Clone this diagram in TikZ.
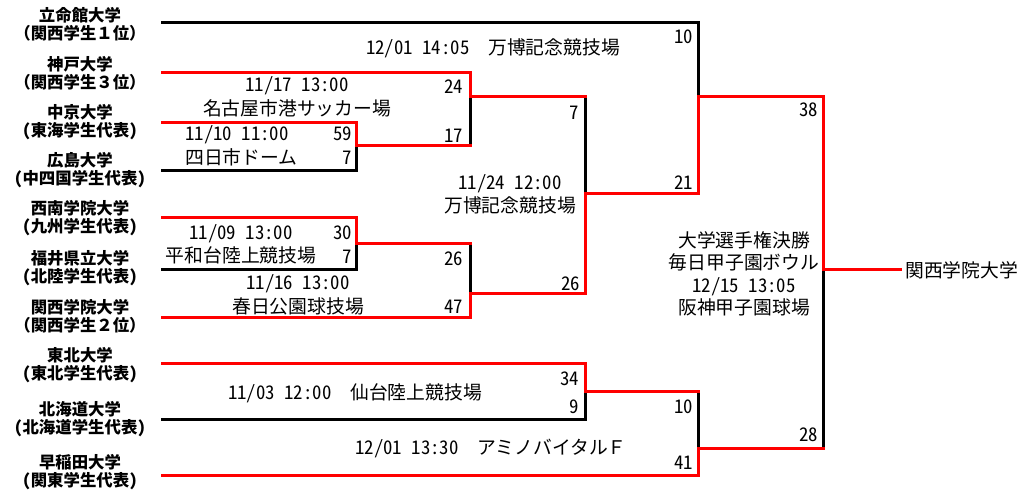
\documentclass[tikz,border=0pt]{standalone}
\usepackage{fontspec}
\setmainfont{Noto Sans CJK JP}[RawFeature=+hwid]
\newfontfamily\fwfont{Noto Sans CJK JP}
\newcommand{\fw}[1]{{\fwfont #1}}
\begin{document}
\begin{tikzpicture}[x=1pt,y=-1pt,
  win/.style={line width=3pt,red,line cap=rect,line join=miter},
  lose/.style={line width=3pt,black,line cap=rect,line join=miter},
  team/.style={font=\fontsize{16.4}{18}\selectfont\bfseries,align=center,inner sep=0pt},
  info/.style={font=\fontsize{18.8}{22.5}\selectfont,inner sep=0pt,anchor=base},
  score/.style={font=\fontsize{18.8}{22.5}\selectfont,inner sep=0pt,anchor=base east}]
\useasboundingbox (0,0) rectangle (1032,500);
\fill[white] (0,0) rectangle (1032,500);
% team labels
\node[team] (n1) at (80,24) {立命館大学\\\fw{（関西学生１位）}};
\node[team] (n2) at (80,73) {神戸大学\\\fw{（関西学生３位）}};
\node[team] (n3) at (80,122) {中京大学\\（東海学生代表）};
\node[team] (n4) at (80,170) {広島大学\\（中四国学生代表）};
\node[team] (n5) at (80,218) {西南学院大学\\（九州学生代表）};
\node[team] (n6) at (80,268) {福井県立大学\\（北陸学生代表）};
\node[team] (n7) at (80,316) {関西学院大学\\\fw{（関西学生２位）}};
\node[team] (n8) at (80,365) {東北大学\\（東北学生代表）};
\node[team] (n9) at (80,419) {北海道大学\\（北海道学生代表）};
\node[team] (n10) at (80,472) {早稲田大学\\（関東学生代表）};
% line starts
\coordinate (s1) at (162,23);
\coordinate (s2) at (162,73);
\coordinate (s3) at (162,122);
\coordinate (s4) at (162,170);
\coordinate (s5) at (162,217);
\coordinate (s6) at (162,269);
\coordinate (s7) at (162,317);
\coordinate (s8) at (162,363);
\coordinate (s9) at (162,419);
\coordinate (s10) at (162,475);
% junctions
\coordinate (a1t) at (356,122); \coordinate (a1b) at (356,170); \coordinate (a1) at (356,145);
\coordinate (a2t) at (356,217); \coordinate (a2b) at (356,269); \coordinate (a2) at (356,243);
\coordinate (b1t) at (470,73);  \coordinate (b1b) at (470,145); \coordinate (b1) at (470,97);
\coordinate (b2t) at (470,243); \coordinate (b2b) at (470,317); \coordinate (b2) at (470,293);
\coordinate (c1t) at (585,97);  \coordinate (c1b) at (585,293); \coordinate (c1) at (585,193);
\coordinate (c2t) at (585,363); \coordinate (c2b) at (585,419); \coordinate (c2) at (585,391);
\coordinate (d1t) at (698,23);  \coordinate (d1b) at (698,193); \coordinate (d1) at (698,97);
\coordinate (d2t) at (698,391); \coordinate (d2b) at (698,475); \coordinate (d2) at (698,448);
\coordinate (ft) at (823,97);   \coordinate (fb) at (823,448);  \coordinate (f) at (823,269);
\node[font=\fontsize{18.8}{22.5}\selectfont,inner sep=0pt,anchor=west] (champ) at (905,270) {関西学院大学};
\coordinate (ce) at (900,269);
% bracket lines
\draw[lose] (a1) -- (a1b) -- (s4);
\draw[win] (s3) -- (a1t) -- (a1);
\draw[lose] (a2) -- (a2b) -- (s6);
\draw[win] (s5) -- (a2t) -- (a2);
\draw[lose] (b1b) -- (b1);
\draw[win] (s2) -- (b1t) -- (b1);
\draw[win] (a1) -- (b1b);
\draw[lose] (b2t) -- (b2);
\draw[win] (a2) -- (b2t);
\draw[win] (s7) -- (b2b) -- (b2);
\draw[lose] (c1t) -- (c1);
\draw[win] (b1) -- (c1t);
\draw[win] (b2) -- (c1b) -- (c1);
\draw[lose] (c2) -- (c2b) -- (s9);
\draw[win] (s8) -- (c2t) -- (c2);
\draw[lose] (s1) -- (d1t) -- (d1);
\draw[win] (c1) -- (d1b) -- (d1);
\draw[lose] (d2t) -- (d2);
\draw[win] (c2) -- (d2t);
\draw[win] (s10) -- (d2b) -- (d2);
\draw[lose] (f) -- (fb);
\draw[win] (d2) -- (fb);
\draw[win] (d1) -- (ft) -- (f);
\draw[win] (f) -- (ce);
% game info
\node[info] (g1a) at (297,92) {11/17 13:00};
\node[info] (g1b) at (297,115) {名古屋市港サッカー場};
\node[info,anchor=base west] (g2a) at (185,140) {11/10 11:00};
\node[info,anchor=base west] (g2b) at (185,164) {四日市ドーム};
\node[info] (g3a) at (241,239) {11/09 13:00};
\node[info] (g3b) at (241,262) {平和台陸上競技場};
\node[info] (g4a) at (298,289) {11/16 13:00};
\node[info] (g4b) at (298,313) {春日公園球技場};
\node[info] (g5a) at (510,189) {11/24 12:00};
\node[info] (g5b) at (510,212) {万博記念競技場};
\node[info] (g6) at (493,55) {12/01 14:05\fw{　}万博記念競技場};
\node[info] (g7) at (355,399) {11/03 12:00\fw{　}仙台陸上競技場};
\node[info] (g8) at (491,454) {12/01 13:30\fw{　アミノバイタルＦ}};
\node[info,align=center,anchor=center] (g9) at (744,274) {大学選手権決勝\\毎日甲子園ボウル\\12/15 13:05\\阪神甲子園球場};
% scores
\node[score] (p1) at (463,94) {24};
\node[score] (p2) at (463,142) {17};
\node[score] (p3) at (352,140) {59};
\node[score] (p4) at (352,164) {7};
\node[score] (p5) at (352,239) {30};
\node[score] (p6) at (352,263) {7};
\node[score] (p7) at (463,265) {26};
\node[score] (p8) at (463,313) {47};
\node[score] (p9) at (579,119) {7};
\node[score] (p10) at (580,290) {26};
\node[score] (p11) at (693,44) {10};
\node[score] (p12) at (693,189) {21};
\node[score] (p13) at (579,385) {34};
\node[score] (p14) at (579,413) {9};
\node[score] (p15) at (693,413) {10};
\node[score] (p16) at (693,469) {41};
\node[score] (p17) at (818,117) {38};
\node[score] (p18) at (818,441) {28};
\end{tikzpicture}
\end{document}
